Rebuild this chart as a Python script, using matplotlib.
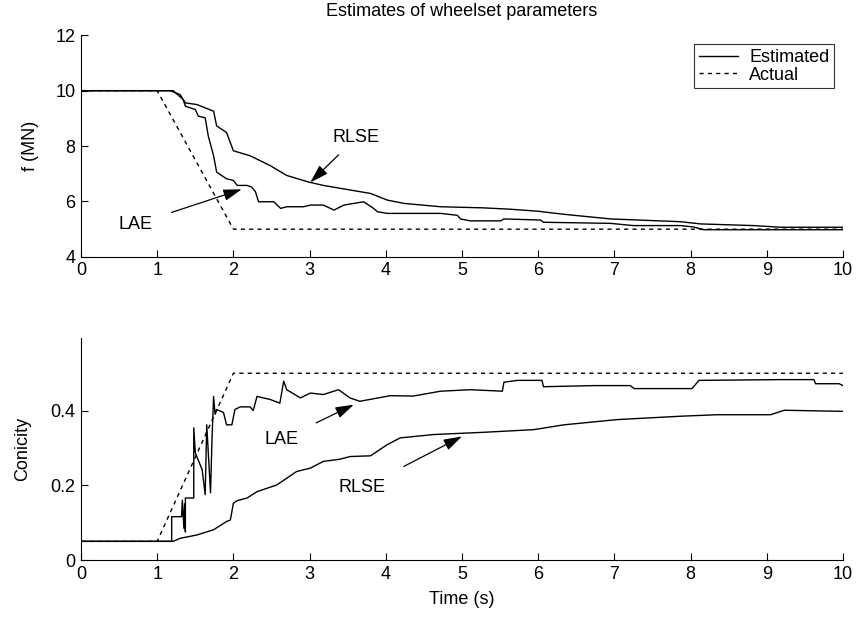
import numpy as np
import matplotlib.pyplot as plt

plt.rcParams['font.family'] = ['Liberation Sans', 'DejaVu Sans']

# ---- top panel: f (MN) ----
t_act_f = [0, 1, 2, 10]
f_act = [10, 10, 5, 5]

t_rlse_f = [0, 1.17, 1.30, 1.37, 1.52, 1.74, 1.78, 1.91, 2.00, 2.22, 2.48, 2.70, 2.99,
            3.18, 3.80, 4.02, 4.24, 4.72, 5.28, 5.64, 5.99, 6.33, 6.95, 7.87, 8.13,
            8.83, 9.18, 10.0]
f_rlse = [10, 10, 9.86, 9.56, 9.50, 9.26, 8.73, 8.49, 7.83, 7.65, 7.30, 6.94, 6.70,
          6.58, 6.29, 6.05, 5.93, 5.81, 5.77, 5.72, 5.65, 5.54, 5.37, 5.27, 5.19,
          5.13, 5.07, 5.07]

t_lae_f = [0, 1.21, 1.34, 1.37, 1.50, 1.54, 1.63, 1.67, 1.74, 1.78, 1.91, 2.00, 2.05,
           2.18, 2.24, 2.29, 2.33, 2.53, 2.62, 2.70, 2.92, 3.01, 3.18, 3.32, 3.45,
           3.71, 3.84, 3.89, 4.02, 4.72, 4.94, 4.98, 5.11, 5.51, 5.55, 6.03, 6.07,
           6.95, 7.25, 7.87, 8.04, 8.17, 10.0]
f_lae = [10, 10, 9.68, 9.44, 9.32, 9.08, 9.02, 8.37, 7.65, 7.06, 6.82, 6.76, 6.58,
         6.58, 6.52, 6.35, 5.99, 5.99, 5.75, 5.81, 5.81, 5.87, 5.87, 5.69, 5.87,
         5.99, 5.75, 5.63, 5.57, 5.57, 5.50, 5.37, 5.30, 5.30, 5.37, 5.33, 5.25,
         5.21, 5.13, 5.13, 5.08, 4.98, 4.98]

# ---- bottom panel: conicity ----
t_act_c = [0, 1, 2, 10]
c_act = [0.05, 0.05, 0.5, 0.5]

t_rlse_c = [0, 1.21, 1.30, 1.52, 1.74, 1.91, 1.96, 2.00, 2.05, 2.18, 2.31, 2.57, 2.83,
            3.01, 3.18, 3.40, 3.53, 3.80, 4.02, 4.19, 4.63, 5.29, 5.94, 6.34, 7.04,
            7.87, 8.35, 9.05, 9.23, 10.0]
c_rlse = [0.05, 0.05, 0.058, 0.067, 0.081, 0.103, 0.107, 0.152, 0.159, 0.166, 0.183,
          0.201, 0.237, 0.246, 0.264, 0.270, 0.277, 0.279, 0.309, 0.327, 0.336, 0.342,
          0.349, 0.362, 0.376, 0.385, 0.389, 0.389, 0.401, 0.398]

t_lae_c = [0, 1.19, 1.19, 1.32, 1.33, 1.35, 1.36, 1.37, 1.37, 1.48, 1.48, 1.50, 1.59,
           1.63, 1.65, 1.70, 1.72, 1.74, 1.76, 1.78, 1.87, 1.91, 1.98, 2.02, 2.09,
           2.22, 2.26, 2.31, 2.48, 2.61, 2.66, 2.70, 2.88, 3.01, 3.18, 3.38, 3.53,
           3.66, 4.06, 4.36, 4.72, 5.11, 5.53, 5.55, 5.73, 6.05, 6.07, 6.73, 7.21,
           7.26, 8.02, 8.11, 9.18, 9.62, 9.64, 9.95, 10.0]
c_lae = [0.05, 0.05, 0.116, 0.116, 0.16, 0.085, 0.15, 0.075, 0.166, 0.166, 0.354,
         0.287, 0.242, 0.175, 0.362, 0.180, 0.328, 0.438, 0.39, 0.403, 0.395, 0.362,
         0.362, 0.403, 0.410, 0.410, 0.400, 0.438, 0.430, 0.420, 0.479, 0.456, 0.434,
         0.447, 0.443, 0.456, 0.434, 0.425, 0.440, 0.439, 0.452, 0.456, 0.452, 0.476,
         0.481, 0.481, 0.464, 0.467, 0.467, 0.459, 0.459, 0.481, 0.483, 0.483, 0.472,
         0.472, 0.467]

fs = 13
fig = plt.figure(figsize=(8.59, 6.19), dpi=100)
ax1 = fig.add_axes([0.0943, 0.585, 0.887, 0.358])
ax2 = fig.add_axes([0.0943, 0.0953, 0.887, 0.359])

lw = 1.0
for ax in (ax1, ax2):
    ax.spines['top'].set_visible(False)
    ax.spines['right'].set_visible(False)
    ax.tick_params(direction='in', length=5, labelsize=fs, width=0.8, pad=4)
    ax.set_xlim(0, 10)
    ax.set_xticks(range(0, 11))

# top
ax1.plot(t_rlse_f, f_rlse, color='black', lw=lw, label='Estimated')
ax1.plot(t_act_f, f_act, color='black', lw=lw, ls=(0, (3, 3)), label='Actual')
ax1.plot(t_lae_f, f_lae, color='black', lw=lw)
ax1.set_ylim(4, 12)
ax1.set_yticks([4, 6, 8, 10, 12])
ax1.set_ylabel('f (MN)', fontsize=fs, labelpad=12)
ax1.set_title('Estimates of wheelset parameters', fontsize=fs, pad=14)
leg = ax1.legend(loc='upper right', fontsize=fs, frameon=True, fancybox=False,
                 handlelength=2.2, borderaxespad=0.5, borderpad=0.25, labelspacing=0.05,
                 handletextpad=0.6)
leg.get_frame().set_edgecolor('black')
leg.get_frame().set_linewidth(0.8)

arrow = dict(arrowstyle='-|>,head_length=0.8,head_width=0.25', color='black', lw=0.9,
             mutation_scale=14)
ax1.annotate('RLSE', xy=(3.01, 6.69), xytext=(3.61, 8.3), fontsize=fs,
             ha='center', va='center', arrowprops=dict(arrow, shrinkA=6, shrinkB=0))
ax1.annotate('LAE', xy=(2.11, 6.44), xytext=(0.72, 5.18), fontsize=fs,
             ha='center', va='center', arrowprops=dict(arrow, shrinkA=12, shrinkB=0))

# bottom
ax2.plot(t_act_c, c_act, color='black', lw=lw, ls=(0, (3, 3)))
ax2.plot(t_rlse_c, c_rlse, color='black', lw=lw)
ax2.plot(t_lae_c, c_lae, color='black', lw=lw)
ax2.set_ylim(0, 0.595)
ax2.set_yticks([0, 0.2, 0.4])
ax2.set_yticklabels(['0', '0.2', '0.4'])
ax2.set_ylabel('Conicity', fontsize=fs, labelpad=14)
ax2.set_xlabel('Time (s)', fontsize=fs, labelpad=6)
ax2.annotate('LAE', xy=(3.58, 0.416), xytext=(2.63, 0.322), fontsize=fs,
             ha='center', va='center', arrowprops=dict(arrow, shrinkA=12, shrinkB=0))
ax2.annotate('RLSE', xy=(5.0, 0.331), xytext=(3.69, 0.193), fontsize=fs,
             ha='center', va='center', arrowprops=dict(arrow, shrinkA=16, shrinkB=0))

fig.savefig('out.png', dpi=100)
